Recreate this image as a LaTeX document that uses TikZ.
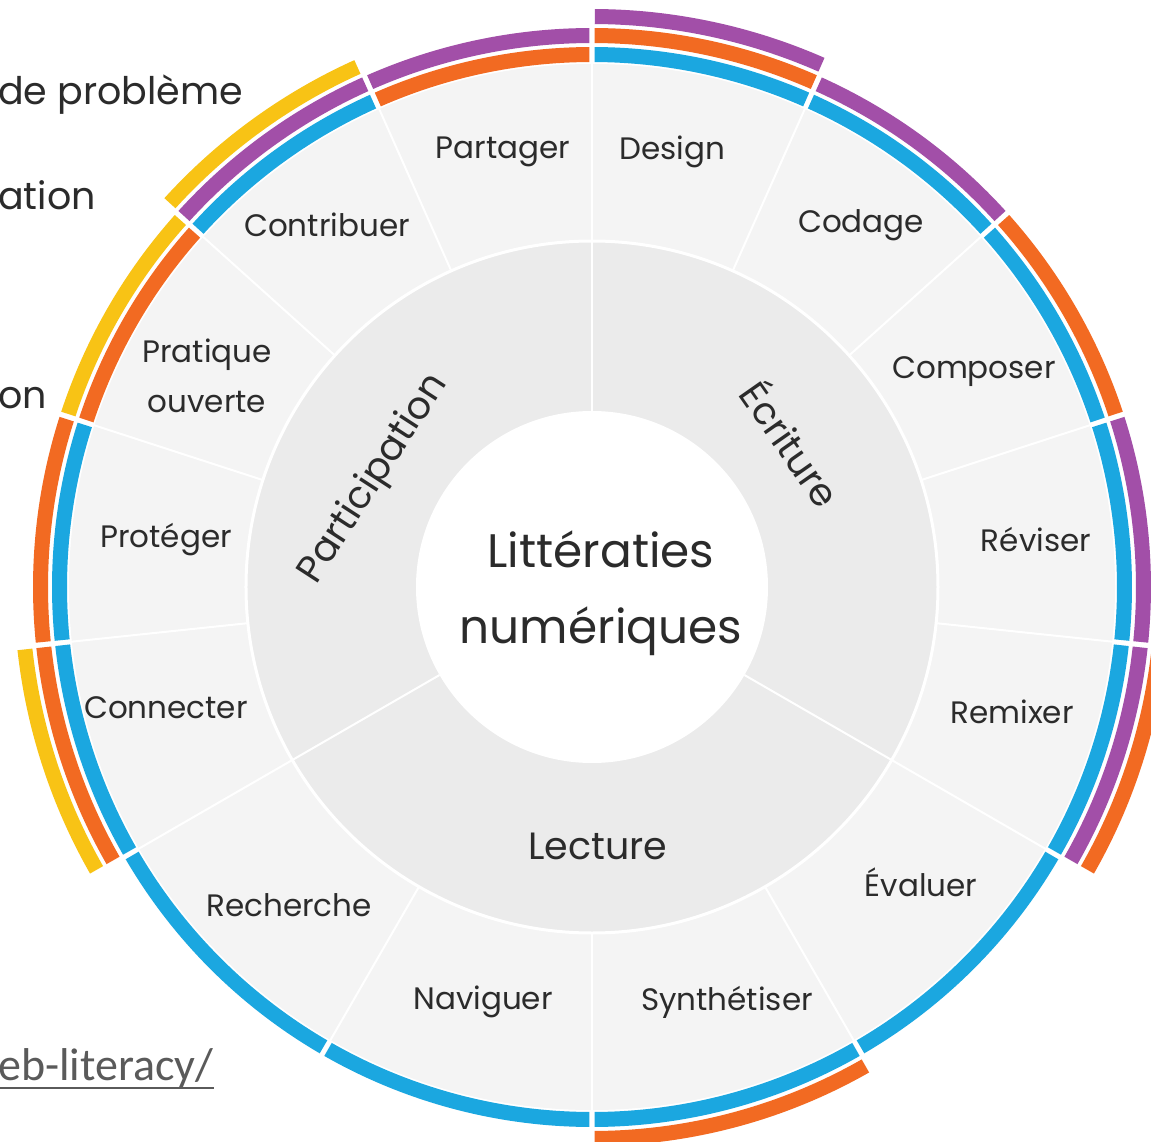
\documentclass[tikz,border=0pt]{standalone}
\usepackage{fontspec}
\setmainfont{Poppins}
\newfontfamily\calib{Carlito}
\definecolor{cblue}{HTML}{1BA7E0}
\definecolor{corange}{HTML}{F26A22}
\definecolor{cpurple}{HTML}{A24FA8}
\definecolor{cyellow}{HTML}{F8C315}
\definecolor{gout}{HTML}{F4F4F4}
\definecolor{gmid}{HTML}{EBEBEB}
\definecolor{txt}{HTML}{2B2B2B}
\definecolor{linkgray}{HTML}{5A5A5A}
\newcommand\cband[4]{%
  \pgfmathsetmacro\ri{506+19*#3}%
  \pgfmathsetmacro\ro{\ri+15}%
  \pgfmathsetmacro\sa{#1+0.28}%
  \pgfmathsetmacro\ea{#2-0.28}%
  \fill[#4] (\sa:\ri) arc[start angle=\sa, end angle=\ea, radius=\ri]
    -- (\ea:\ro) arc[start angle=\ea, end angle=\sa, radius=\ro] -- cycle;}
\tikzset{
  seglabel/.style={text=txt, font=\fontsize{31}{36}\selectfont, inner sep=0pt, align=center},
  seclabel/.style={text=txt, font=\fontsize{38}{44}\selectfont, inner sep=0pt},
  legend/.style={text=txt, font=\fontsize{38}{44}\selectfont, inner sep=0pt, anchor=base west},
  divider/.style={white, line width=2pt},
}
\begin{document}
\begin{tikzpicture}[x=1pt,y=1pt]
\useasboundingbox (-592,-554) rectangle (559,587);
\fill[white] (-592,-554) rectangle (559,587);
\clip (-592,-554) rectangle (559,587);
% discs
\fill[gout] (0,0) circle[radius=523];
\fill[gmid] (0,0) circle[radius=346];
\draw[white, line width=3pt] (0,0) circle[radius=346];
\fill[white] (0,0) circle[radius=176];
% dividers
\foreach \a in {90,66,42,18,-6,-30,-60,-90,-120,-150,186,162,138,114}
  \draw[divider] (\a:347) -- (\a:524);
\foreach \a in {90,-30,210}
  \draw[divider] (\a:176) -- (\a:346);
% colour bands: Ecriture
\cband{66}{90}{1}{cblue}\cband{66}{90}{2}{corange}\cband{66}{90}{3}{cpurple}
\cband{42}{66}{1}{cblue}\cband{42}{66}{2}{cpurple}
\cband{18}{42}{1}{cblue}\cband{18}{42}{2}{corange}
\cband{-6}{18}{1}{cblue}\cband{-6}{18}{2}{cpurple}
\cband{-30}{-6}{1}{cblue}\cband{-30}{-6}{2}{cpurple}\cband{-30}{-6}{3}{corange}
% Lecture
\cband{-60}{-30}{1}{cblue}
\cband{-90}{-60}{1}{cblue}\cband{-90}{-60}{2}{corange}
\cband{-120}{-90}{1}{cblue}
\cband{-150}{-120}{1}{cblue}
% Participation
\cband{186}{210}{1}{cblue}\cband{186}{210}{2}{corange}\cband{186}{210}{3}{cyellow}
\cband{162}{186}{1}{cblue}\cband{162}{186}{2}{corange}
\cband{138}{162}{1}{corange}\cband{138}{162}{2}{cyellow}
\cband{114}{138}{1}{cblue}\cband{114}{138}{2}{cpurple}\cband{114}{138}{3}{cyellow}
\cband{90}{114}{1}{corange}\cband{90}{114}{2}{cpurple}
% segment labels
\node[seglabel] (partager) at (-89,435) {Partager};
\node[seglabel] (design) at (80,435) {Design};
\node[seglabel] (contribuer) at (-265,362) {Contribuer};
\node[seglabel] (codage) at (269,362) {Codage};
\node[seglabel] (pratique) at (-385,211) {Pratique\\[14pt]ouverte};
\node[seglabel] (composer) at (382,215) {Composer};
\node[seglabel] (proteger) at (-426,47) {Protéger};
\node[seglabel] (reviser) at (444,47) {Réviser};
\node[seglabel] (connecter) at (-426,-121) {Connecter};
\node[seglabel] (remixer) at (420,-125) {Remixer};
\node[seglabel] (recherche) at (-303,-318) {Recherche};
\node[seglabel] (evaluer) at (329,-295) {Évaluer};
\node[seglabel] (naviguer) at (-109,-415) {Naviguer};
\node[seglabel] (synth) at (135,-415) {Synthétiser};
% sector labels
\node[seclabel, rotate=57] (particip) at (-218,108) {Participation};
\node[seclabel, rotate=-55] (ecriture) at (201,144) {Écriture};
\node[seclabel] (lecture) at (6,-259) {Lecture};
% centre
\node[text=txt, font=\fontsize{47}{76}\selectfont, align=center, inner sep=0pt] (centre) at (9,-6) {Littératies\\numériques};
% legend fragments
\node[legend] (leg1) at (-594,482) {de problème};
\node[legend] (leg2) at (-594,377) {ation};
\node[legend] (leg3) at (-594,179) {on};
\node[text=linkgray, font=\calib\fontsize{46}{50}\selectfont, inner sep=0pt, anchor=base west] (lnk) at (-594,-493) {eb-literacy/};
\draw[linkgray, line width=2.5pt] ([yshift=-8pt]lnk.base west) -- ([yshift=-8pt]lnk.base east);
\end{tikzpicture}
\end{document}
